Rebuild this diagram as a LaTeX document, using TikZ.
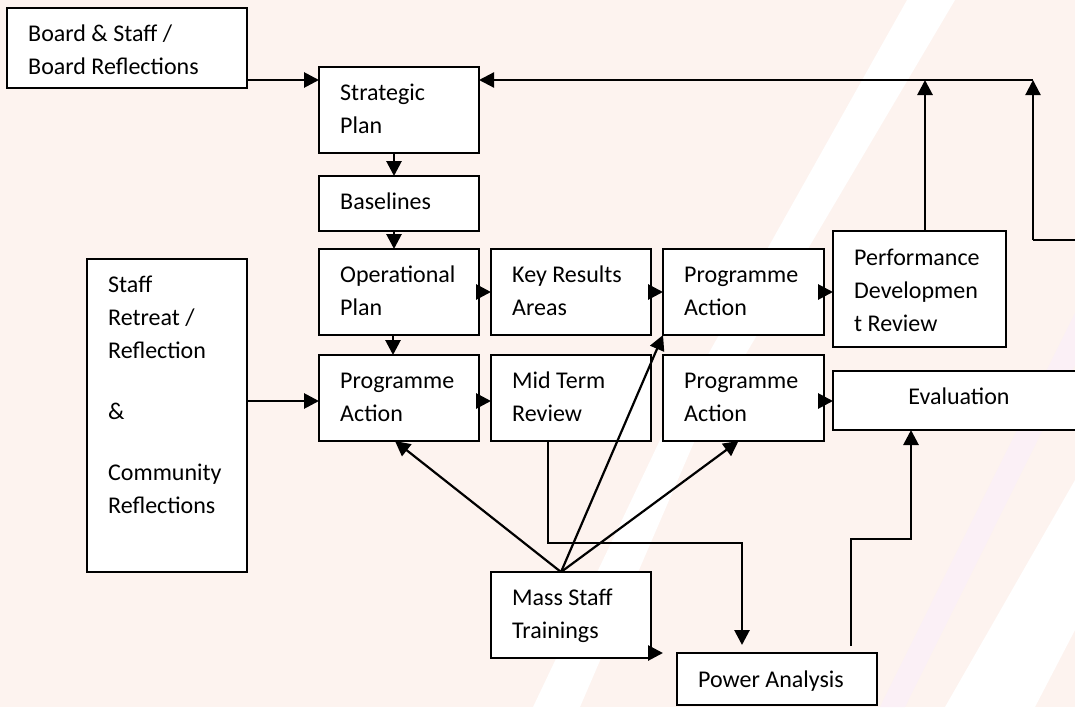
\documentclass[tikz,border=0pt]{standalone}
\usepackage{fontspec}
\setmainfont{Carlito}
\usetikzlibrary{arrows.meta,calc}
\definecolor{bgpink}{RGB}{253,243,239}
\definecolor{bglav}{RGB}{251,240,246}
\newcommand\firststrut{\rule{0pt}{20pt}}
\begin{document}
\begin{tikzpicture}[x=1pt,y=-1pt,
  box/.style={draw=black, line width=2pt, fill=white, inner sep=0pt, outer sep=0pt, anchor=north west},
  txt/.style={inner sep=0pt, anchor=north west, align=left, font=\fontsize{24}{33}\selectfont},
  conn/.style={line width=2.8pt, -{Triangle[length=15pt,width=15pt]}},
  thinconn/.style={line width=2.2pt, -{Triangle[length=15pt,width=15pt]}}]
\useasboundingbox (0,0) rectangle (1075,707);
\clip (0,0) rectangle (1075,707);
% background
\fill[bgpink] (0,0) rectangle (1075,707);
\fill[white] (907,0) -- (955,0) -- (695,440) -- (580,707) -- (533,707) -- (660,440) -- cycle;
\fill[bglav] (880,707) -- (905,707) -- (1075,365) -- (1075,313) -- cycle;
\fill[white] (945,707) -- (1035,707) -- (1075,630) -- (1075,480) -- cycle;

% boxes
\node[box, minimum width=240pt, minimum height=80pt] (board) at (7,8) {};
\node[box, minimum width=160pt, minimum height=86pt] (strat) at (319,67) {};
\node[box, minimum width=160pt, minimum height=55pt] (base) at (319,176) {};
\node[box, minimum width=160pt, minimum height=86pt] (oper) at (319,249) {};
\node[box, minimum width=160pt, minimum height=86pt] (kra) at (491,249) {};
\node[box, minimum width=161pt, minimum height=86pt] (pa1) at (663,249) {};
\node[box, minimum width=173pt, minimum height=116pt] (pdr) at (833,231) {};
\node[box, minimum width=160pt, minimum height=313pt] (staff) at (87,259) {};
\node[box, minimum width=160pt, minimum height=86pt] (pa2) at (319,355) {};
\node[box, minimum width=160pt, minimum height=86pt] (mtr) at (491,355) {};
\node[box, minimum width=161pt, minimum height=86pt] (pa3) at (663,355) {};
\node[box, minimum width=252pt, minimum height=59pt] (eval) at (833,371) {};
\node[box, minimum width=160pt, minimum height=86pt] (mass) at (491,572) {};
\node[box, minimum width=200pt, minimum height=52pt] (power) at (677,653) {};

% texts
\node[txt] (tboard) at ($(board.north west)+(21,13)$) {\firststrut Board \& Staff /\\Board Reflections};
\node[txt] (tstrat) at ($(strat.north west)+(21,13)$) {\firststrut Strategic\\Plan};
\node[txt] (tbase) at ($(base.north west)+(21,13)$) {\firststrut Baselines};
\node[txt] (toper) at ($(oper.north west)+(21,13)$) {\firststrut Operational\\Plan};
\node[txt] (tkra) at ($(kra.north west)+(21,13)$) {\firststrut Key Results\\Areas};
\node[txt] (tpa1) at ($(pa1.north west)+(21,13)$) {\firststrut Programme\\Action};
\node[txt] (tpdr) at ($(pdr.north west)+(21,14)$) {\firststrut Performance\\Developmen\\t Review};
\node[txt] (tstaff) at ($(staff.north west)+(21,13)$) {\firststrut Staff\\Retreat /\\Reflection\\[28pt]\&\\[28pt]Community\\Reflections};
\node[txt] (tpa2) at ($(pa2.north west)+(21,13)$) {\firststrut Programme\\Action};
\node[txt] (tmtr) at ($(mtr.north west)+(21,13)$) {\firststrut Mid Term\\Review};
\node[txt] (tpa3) at ($(pa3.north west)+(21,13)$) {\firststrut Programme\\Action};
\node[inner sep=0pt, anchor=base, font=\fontsize{24}{33}\selectfont] (teval) at ($(eval.north)+(0,33)$) {Evaluation};
\node[txt] (tmass) at ($(mass.north west)+(21,13)$) {\firststrut Mass Staff\\Trainings};
\node[txt] (tpower) at ($(power.north west)+(21,14)$) {\firststrut Power Analysis};

% helper coordinates
\coordinate (tr) at (1033,80);
\coordinate (rr) at (1033,240);
\coordinate (redge) at (1085,240);
\coordinate (s2) at ($(pa2.west)+(0,3)$);
\coordinate (apex) at ($(mass.north)+(-10,0)$);
\coordinate (pt) at ($(power.north)+(-35,-8)$);
\coordinate (mp) at ($(power.north west)+(-14,0)$);
\coordinate (ps) at ($(power.north east)+(-26,-7)$);

% connectors
\draw[conn] ([yshift=8pt]board.south east) -- ([yshift=-13pt]strat.north west);
\draw[line width=2.2pt] (redge) -- (rr);
\draw[thinconn] (rr) -- (tr);
\draw[thinconn] (tr) -- ([yshift=-13pt]strat.north east);
\draw[conn] ([xshift=5.5pt]pdr.north) -- ([xshift=5.5pt]pdr.north |- tr);
\draw[conn] ([xshift=-5pt]strat.south) -- ([xshift=-5pt]base.north);
\draw[conn] ([xshift=-5pt]base.south) -- ([xshift=-5pt]oper.north);
\draw[conn] ([xshift=-6pt]oper.south) -- ([xshift=-6pt]pa2.north);
\draw[conn] (oper.east) -- (kra.west);
\draw[conn] (kra.east) -- (pa1.west);
\draw[conn] (pa1.east) -- (pa1.east -| pdr.west);
\draw[conn] (staff.east |- s2) -- (s2);
\draw[conn] ([yshift=-3pt]pa2.east) -- ([yshift=-3pt]mtr.west);
\draw[conn] ([yshift=-3pt]pa3.east) -- ([yshift=-3pt]pa3.east -| eval.west);
\draw[thinconn] (apex) -- ([xshift=-4pt]pa2.south);
\draw[thinconn] (apex) -- (pa1.south west);
\draw[thinconn] (apex) -- ([xshift=-5pt]pa3.south);
\draw[conn] ([xshift=-23pt]mtr.south) -- ++(0,102) -| (pt);
\draw[conn] (mass.south east |- mp) -- (mp);
\draw[conn] (ps) -- ++(0,-107) -| ([xshift=-48pt]eval.south);
\end{tikzpicture}
\end{document}
